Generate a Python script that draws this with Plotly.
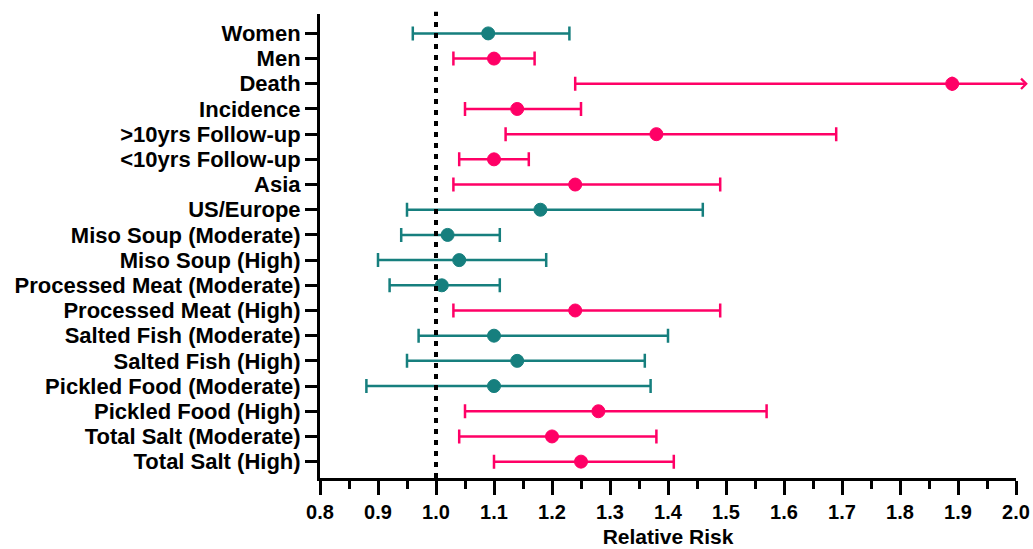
import plotly.graph_objects as go

categories = ["Women", "Men", "Death", "Incidence", ">10yrs Follow-up", "<10yrs Follow-up",
              "Asia", "US/Europe", "Miso Soup (Moderate)", "Miso Soup (High)",
              "Processed Meat (Moderate)", "Processed Meat (High)", "Salted Fish (Moderate)",
              "Salted Fish (High)", "Pickled Food (Moderate)", "Pickled Food (High)",
              "Total Salt (Moderate)", "Total Salt (High)"]
rr =    [1.09, 1.10, 1.89, 1.14, 1.38, 1.10, 1.24, 1.18, 1.02, 1.04, 1.01, 1.24, 1.10, 1.14, 1.10, 1.28, 1.20, 1.25]
lower = [0.96, 1.03, 1.24, 1.05, 1.12, 1.04, 1.03, 0.95, 0.94, 0.90, 0.92, 1.03, 0.97, 0.95, 0.88, 1.05, 1.04, 1.10]
upper = [1.23, 1.17, None, 1.25, 1.69, 1.16, 1.49, 1.46, 1.11, 1.19, 1.11, 1.49, 1.40, 1.36, 1.37, 1.57, 1.38, 1.41]
significant = [False, True, True, True, True, True, True, False, False, False, False, True,
               False, False, False, True, True, True]

x_range = [0.8, 2.0]
TEAL = "#167f7e"
PINK = "#ff0066"

n = len(categories)
ypos = [n - 1 - i for i in range(n)]

FIG_W, FIG_H = 1033, 549
M_L, M_R, M_T, M_B = 320, 17, 14, 71
PLOT_W = FIG_W - M_L - M_R

fig = go.Figure()
for sig, color in [(False, TEAL), (True, PINK)]:
    idx = [i for i in range(n) if significant[i] == sig]
    xs = [rr[i] for i in idx]
    ys = [ypos[i] for i in idx]
    plus = [(upper[i] - rr[i]) if upper[i] is not None else 0 for i in idx]
    minus = [rr[i] - lower[i] for i in idx]
    fig.add_trace(go.Scatter(
        x=xs, y=ys, mode="markers",
        marker=dict(size=13, color=color, line=dict(width=1, color=color)),
        error_x=dict(type="data", symmetric=False, array=plus, arrayminus=minus,
                     color=color, thickness=2.5, width=7),
        showlegend=False, cliponaxis=False,
    ))

# open-ended upper CI (beyond axis end) drawn as an arrow
tip_paper = 1.017
for i in range(n):
    if upper[i] is None:
        pt_px = (rr[i] - x_range[0]) / (x_range[1] - x_range[0]) * PLOT_W
        fig.add_annotation(
            x=tip_paper, xref="paper", y=ypos[i], yref="y",
            ax=pt_px - tip_paper * PLOT_W, ay=0, axref="pixel", ayref="pixel",
            text="", showarrow=True, arrowside="end", arrowhead=4,
            arrowsize=0.8, arrowwidth=2.5, arrowcolor=PINK, standoff=0, startstandoff=0,
        )

# reference line at RR = 1
fig.add_shape(type="line", x0=1.0, x1=1.0, xref="x", y0=0, y1=1.005, yref="paper",
              line=dict(color="black", width=4, dash="5px,6px"), layer="above")

fig.update_layout(
    width=FIG_W, height=FIG_H,
    margin=dict(l=M_L, r=M_R, t=M_T, b=M_B, autoexpand=False),
    plot_bgcolor="white", paper_bgcolor="white",
    font=dict(family="Liberation Sans, Arial, sans-serif", color="black"),
)
fig.update_xaxes(
    range=x_range, tickvals=[round(0.8 + 0.1 * k, 1) for k in range(13)],
    tickformat=".1f", automargin=False,
    showline=True, linewidth=3, linecolor="black", mirror=False,
    ticks="outside", ticklen=14, tickwidth=3, tickcolor="black",
    minor=dict(dtick=0.05, tick0=0.85, ticks="outside", ticklen=8, tickwidth=3, tickcolor="black"),
    showgrid=False, zeroline=False,
    tickfont=dict(size=20, weight="bold", family="Liberation Sans, Arial, sans-serif"),
    title=dict(text="Relative Risk", font=dict(size=21, weight="bold"), standoff=8),
)
fig.update_yaxes(
    range=[-0.65, n - 1 + 0.77], automargin=False,
    tickvals=ypos, ticktext=categories,
    showline=True, linewidth=3, linecolor="black",
    ticks="outside", ticklen=12, tickwidth=3, tickcolor="black",
    showgrid=False, zeroline=False,
    tickfont=dict(size=22, weight="bold", family="Liberation Sans, Arial, sans-serif"),
)

# remove the default page margin so the figure sits at the window origin without scrollbars
fig.write_html("out.html", config={"displayModeBar": False},
               post_script="document.body.style.margin='0';document.body.style.overflow='hidden';")
